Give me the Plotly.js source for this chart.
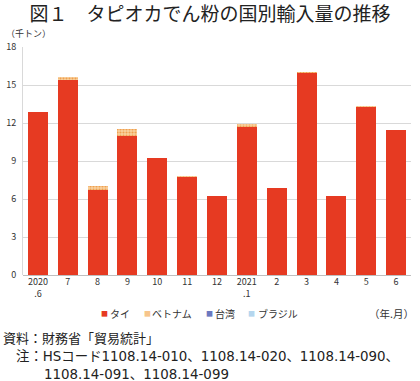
<!DOCTYPE html>
<html><head><meta charset="utf-8">
<script src="https://cdn.plot.ly/plotly-3.0.1.min.js"></script>
<style>html,body{margin:0;padding:0;background:#fff}#c{width:420px;height:381px}</style>
</head><body><div id="c"></div>
<script>
const categories = ["2020<br>.6","7","8","9","10","11","12","2021<br>.1","2","3","4","5","6"];
const thai = [12.85,15.4,6.75,11.0,9.2,7.7,6.2,11.65,6.87,15.95,6.2,13.28,11.42];
const vietnam = [0.05,0.2,0.3,0.5,0.02,0.1,0.02,0.25,0.02,0.1,0.02,0.03,0.02];
const taiwan = [0,0,0,0,0,0,0,0,0,0,0,0,0];
const brazil = [0,0,0,0,0,0,0,0,0,0,0,0,0];
const seriesNames = ["タイ","ベトナム","台湾","ブラジル"];
const yTicks = [0,3,6,9,12,15,18];

const F = '"Noto Sans CJK JP", "Noto Sans", sans-serif';
const FN = '"DejaVu Sans", "Noto Sans CJK JP", sans-serif';
const colors = ['#E63A22','#F7C58C','#6B78C0','#B5D6EE'];
const traces = [
  {type:'bar', name:seriesNames[0], x:categories, y:thai, marker:{color:colors[0]}},
  {type:'bar', name:seriesNames[1], x:categories, y:vietnam, marker:{color:colors[1], pattern:{shape:'.', fgcolor:'#F0A050', bgcolor:'#F9D2A0', size:3, solidity:0.4, fillmode:'replace'}}},
  {type:'bar', name:seriesNames[2], x:categories, y:taiwan, marker:{color:colors[2], pattern:{shape:'+', fgcolor:'#5A6AB0', bgcolor:'#C9CFEA', size:3, solidity:0.4, fillmode:'replace'}}},
  {type:'bar', name:seriesNames[3], x:categories, y:brazil, marker:{color:colors[3], pattern:{shape:'.', fgcolor:'#9CC8E8', bgcolor:'#F4F8FC', size:3, solidity:0.3, fillmode:'replace'}}}
];
const px = v => (v-23)/388;
const py = v => (275-v)/228;
const legX = [104,147,209,251];
const legT = [109,151,214,257];
const ann = [
  {text:'（千トン）', xref:'paper', yref:'paper', x:px(4), y:py(34), xanchor:'left', yanchor:'middle', showarrow:false, font:{size:9, color:'#333'}},
  {text:'（年.月）', xref:'paper', yref:'paper', x:px(416), y:py(313), xanchor:'right', yanchor:'middle', showarrow:false, font:{size:10.5, color:'#333'}},
  {text:'資料：財務省「貿易統計」', xref:'paper', yref:'paper', x:px(1), y:py(337), xanchor:'left', yanchor:'middle', showarrow:false, font:{family:F, size:13, color:'#222'}},
  {text:'注：HSコード1108.14-010、1108.14-020、1108.14-090、', xref:'paper', yref:'paper', x:px(14), y:py(356), xanchor:'left', yanchor:'middle', showarrow:false, font:{family:FN, size:13.4, color:'#222'}},
  {text:'1108.14-091、1108.14-099', xref:'paper', yref:'paper', x:px(42), y:py(374), xanchor:'left', yanchor:'middle', showarrow:false, font:{family:FN, size:13.4, color:'#222'}}
];
seriesNames.forEach((n,i)=>{
  ann.push({text:'■', xref:'paper', yref:'paper', x:px(legX[i]), y:py(313), xanchor:'center', yanchor:'middle', showarrow:false, borderpad:0, font:{size:7, color:colors[i]}});
  ann.push({text:n, xref:'paper', yref:'paper', x:px(legT[i]), y:py(313), xanchor:'left', yanchor:'middle', showarrow:false, borderpad:0, font:{size:10, color:'#333'}});
});
const layout = {
  width:420, height:381,
  margin:{l:23, r:9, t:47, b:106},
  barmode:'stack', bargap:0.33,
  paper_bgcolor:'#fff', plot_bgcolor:'#fff',
  font:{family:F, size:9, color:'#333'},
  title:{text:'図１　タピオカでん粉の国別輸入量の推移', font:{family:F, size:19, color:'#222', weight:'normal'}, x:0.5, xanchor:'center', y:1-14/381, yanchor:'middle'},
  xaxis:{type:'category', tickfont:{size:9, color:'#333'}, showgrid:false, showline:false, ticks:'', tickangle:0},
  yaxis:{range:[0,18], tickvals:yTicks, tickfont:{size:9, color:'#333'}, gridcolor:'#d9d9d9', gridwidth:1, zeroline:true, zerolinecolor:'#bfbfbf', showline:true, linecolor:'#d9d9d9', ticks:'', ticklabelstandoff:4},
  showlegend:false,
  annotations:ann
};
Plotly.newPlot('c', traces, layout, {displayModeBar:false, staticPlot:true});
</script></body></html>
